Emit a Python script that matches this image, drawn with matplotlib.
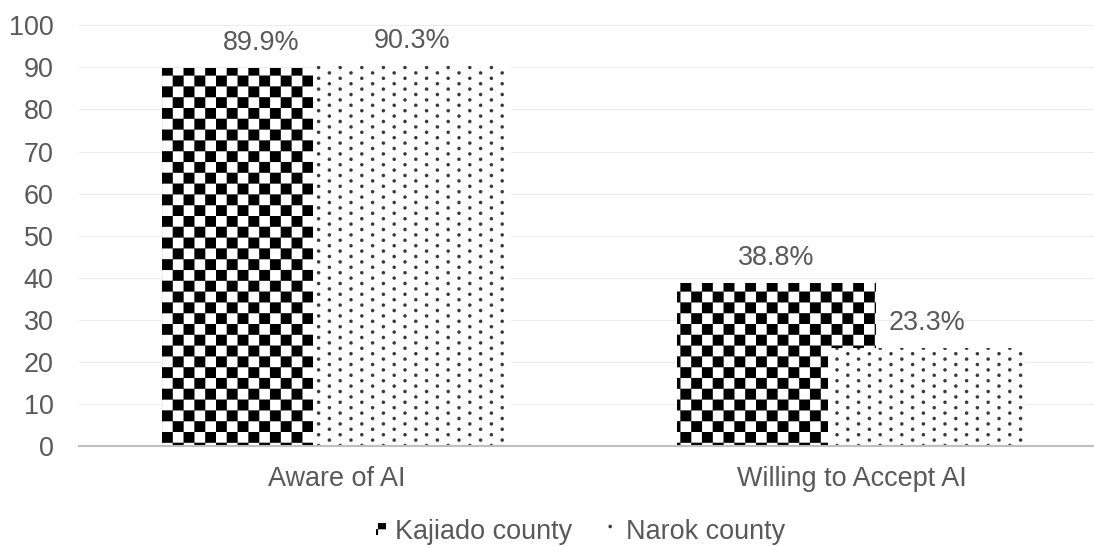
import warnings
import numpy as np
import matplotlib
matplotlib.use("Agg")
import matplotlib.pyplot as plt
import matplotlib.hatch as mhatch
from matplotlib.path import Path

# custom hatch letters ('k' checker, 'p' dots) are not in the built-in set
warnings.filterwarnings("ignore", message="hatch must consist")

categories = ["Aware of AI", "Willing to Accept AI"]
series_names = ["Kajiado county", "Narok county"]
kajiado = [89.9, 38.8]
narok = [90.3, 23.3]
yticks = list(range(0, 101, 10))

TEXT = "#595959"
DPI = 108


class CheckerHatch(mhatch.HatchPatternBase):
    """Filled checkerboard, 10 cells across one hatch tile."""
    filled = True

    def __init__(self, hatch, density):
        self.cells = 10 if "k" in hatch else 0
        self.num_vertices = (self.cells ** 2 // 2) * 5

    def set_vertices_and_codes(self, vertices, codes):
        step = 1.0 / self.cells
        square = np.array([[0, 0], [1, 0], [1, 1], [0, 1], [0, 0]]) * step
        sq_codes = [Path.MOVETO, Path.LINETO, Path.LINETO, Path.LINETO, Path.CLOSEPOLY]
        k = 0
        for i in range(self.cells):
            for j in range(self.cells):
                if (i + j) % 2:
                    continue
                vertices[k:k + 5] = square + [i * step, j * step]
                codes[k:k + 5] = sq_codes
                k += 5


class DotHatch(mhatch.HatchPatternBase):
    """Staggered grid of small filled dots."""
    filled = True

    def __init__(self, hatch, density):
        self.rows = 20 if "p" in hatch else 0
        self.cols = 5
        self.circle = Path.unit_circle()
        self.num_vertices = self.rows * self.cols * len(self.circle.vertices)

    def set_vertices_and_codes(self, vertices, codes):
        n = len(self.circle.vertices)
        r = 0.0155
        k = 0
        for i in range(self.rows):
            y = (i + 0.5) / self.rows
            for j in range(self.cols):
                x = (j + 0.25 + 0.5 * (i % 2)) / self.cols
                vertices[k:k + n] = self.circle.vertices * r + [x, y]
                codes[k:k + n] = self.circle.codes
                k += n


mhatch._hatch_types.extend([CheckerHatch, DotHatch])

plt.rcParams["font.family"] = ["Liberation Sans", "DejaVu Sans"]
plt.rcParams["font.size"] = 18
plt.rcParams["hatch.linewidth"] = 0.1

fig = plt.figure(figsize=(1094 / DPI, 546 / DPI), dpi=DPI)
ax = fig.add_axes([79 / 1094, 100 / 546, 1 - 79 / 1094, (446 - 25.3) / 546])

x = np.arange(len(categories))
offset = 0.146
width = 0.385

b1 = ax.bar(x - offset, kajiado, width, color="white", edgecolor="black",
            linewidth=0, hatch="k", label=series_names[0])
b2 = ax.bar(x + offset, narok, width, color="white", edgecolor="#383838",
            linewidth=0, hatch="p", label=series_names[1])

ax.bar_label(b1, labels=[f"{v}%" for v in kajiado], padding=8, color=TEXT)
ax.bar_label(b2, labels=[f"{v}%" for v in narok], padding=8, color=TEXT)

ax.set_xlim(-0.5, 1.47)
ax.set_ylim(0, 100)
ax.set_yticks(yticks)
ax.set_xticks(x)
ax.set_xticklabels(categories)

ax.set_axisbelow(True)
ax.yaxis.grid(True, color="#ececec", linewidth=0.7)
for side in ["top", "right", "left"]:
    ax.spines[side].set_visible(False)
ax.spines["bottom"].set_color("#bfbfbf")
ax.spines["bottom"].set_linewidth(1.4)

ax.tick_params(axis="y", length=0, pad=17, labelcolor=TEXT)
ax.tick_params(axis="x", length=0, pad=13, labelcolor=TEXT)

leg = fig.legend(handles=[b1, b2], labels=series_names, loc="center",
                 bbox_to_anchor=(581 / 1094, 0.026), ncol=2, frameon=False,
                 handlelength=0.35, handleheight=0.35, handletextpad=0.35,
                 columnspacing=1.3)
for t in leg.get_texts():
    t.set_color(TEXT)

fig.savefig("out.png", dpi=DPI)
